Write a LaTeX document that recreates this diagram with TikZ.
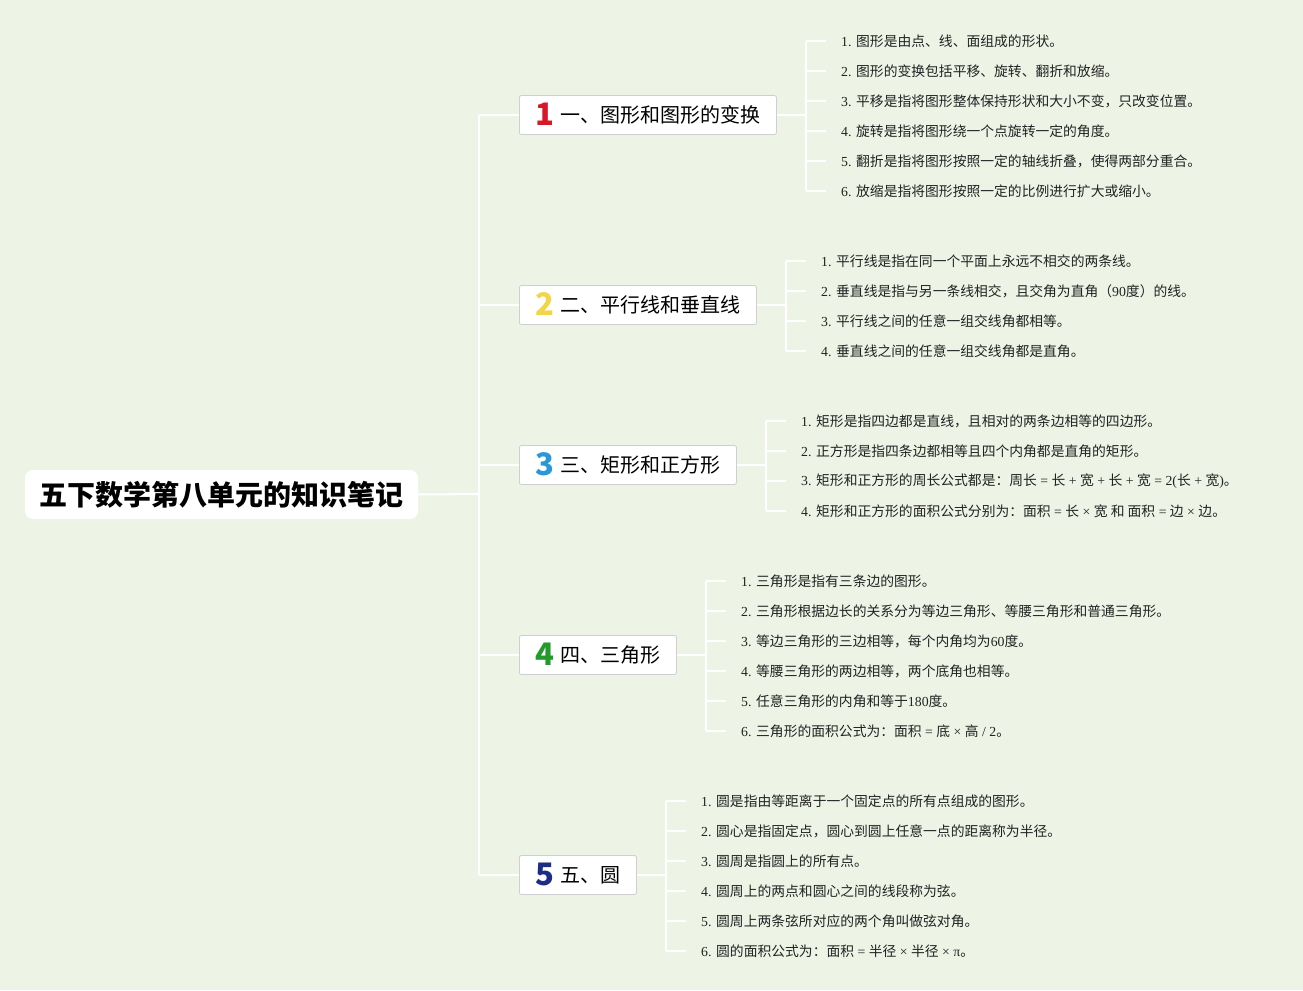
\documentclass[tikz,border=0pt]{standalone}
\usepackage{fontspec}
\setmainfont{Noto Sans CJK SC}
\newfontfamily\serifL{Liberation Serif}
\newcommand{\lt}[1]{{\serifL #1}}
\definecolor{bg}{HTML}{EDF4E6}
\definecolor{cone}{HTML}{D7182A}
\definecolor{ctwo}{HTML}{F2D649}
\definecolor{cthree}{HTML}{2A97D9}
\definecolor{cfour}{HTML}{239A2B}
\definecolor{cfive}{HTML}{1D2C86}
\definecolor{boxline}{HTML}{CFCFCF}
\definecolor{itemtext}{HTML}{222222}
\tikzset{
  rootbox/.style={fill=white, rounded corners=8pt, minimum width=393pt, minimum height=49pt, inner sep=0pt,
    font=\fontsize{28}{30}\selectfont\bfseries, text=black},
  secbox/.style={fill=white, draw=boxline, line width=0.8pt, rounded corners=2pt, minimum height=39pt,
    inner sep=0pt, text height=17pt, text depth=1.6pt, anchor=west, font=\fontsize{20}{22}\selectfont, text=black},
  itembox/.style={anchor=west, inner sep=0pt, font=\fontsize{13.8}{15}\selectfont, text=itemtext},
  link/.style={draw=white, line width=2pt},
}
\newcommand{\num}[2]{\raisebox{-3pt}{\textcolor{#1}{\fontsize{31}{31}\selectfont\bfseries #2}}\hspace{6pt}}
\begin{document}
\begin{tikzpicture}[x=1pt,y=-1pt]
\fill[bg] (0,0) rectangle (1303,990);
\useasboundingbox (0,0) rectangle (1303,990);

% root
\node[rootbox] (root) at (221.5,494.5) {五下数学第八单元的知识笔记};
\coordinate (trunk) at (479,494);

% sections
\node[secbox, minimum width=257pt] (s1) at (519,115) {\num{cone}{1}一、图形和图形的变换};
\node[secbox, minimum width=237pt] (s2) at (519,305) {\num{ctwo}{2}二、平行线和垂直线};
\node[secbox, minimum width=217pt] (s3) at (519,465) {\num{cthree}{3}三、矩形和正方形};
\node[secbox, minimum width=157pt] (s4) at (519,655) {\num{cfour}{4}四、三角形};
\node[secbox, minimum width=117pt] (s5) at (519,875) {\num{cfive}{5}五、圆};

\draw[link] (root.east) -- (trunk);
\draw[link] (trunk |- s1.west) -- (trunk |- s5.west);
\foreach \s in {s1,s2,s3,s4,s5} {\draw[link] (trunk |- \s.west) -- (\s.west);}

% section 1 items
\node[itembox] (a1) at (841,41) {\lt{1. }图形是由点、线、面组成的形状。};
\node[itembox] (a2) at (841,71) {\lt{2. }图形的变换包括平移、旋转、翻折和放缩。};
\node[itembox] (a3) at (841,101) {\lt{3. }平移是指将图形整体保持形状和大小不变，只改变位置。};
\node[itembox] (a4) at (841,131) {\lt{4. }旋转是指将图形绕一个点旋转一定的角度。};
\node[itembox] (a5) at (841,161) {\lt{5. }翻折是指将图形按照一定的轴线折叠，使得两部分重合。};
\node[itembox] (a6) at (841,191) {\lt{6. }放缩是指将图形按照一定的比例进行扩大或缩小。};
\coordinate (k1) at (806,115);
\draw[link] (s1.east) -- (k1);
\draw[link] (k1 |- a1.west) -- (k1 |- a6.west);
\foreach \i in {a1,a2,a3,a4,a5,a6} {\draw[link] (k1 |- \i.west) -- ([xshift=-15pt]\i.west);}

% section 2 items
\node[itembox] (b1) at (821,261) {\lt{1. }平行线是指在同一个平面上永远不相交的两条线。};
\node[itembox] (b2) at (821,291) {\lt{2. }垂直线是指与另一条线相交，且交角为直角（\lt{90}度）的线。};
\node[itembox] (b3) at (821,321) {\lt{3. }平行线之间的任意一组交线角都相等。};
\node[itembox] (b4) at (821,351) {\lt{4. }垂直线之间的任意一组交线角都是直角。};
\coordinate (k2) at (786,305);
\draw[link] (s2.east) -- (k2);
\draw[link] (k2 |- b1.west) -- (k2 |- b4.west);
\foreach \i in {b1,b2,b3,b4} {\draw[link] (k2 |- \i.west) -- ([xshift=-15pt]\i.west);}

% section 3 items
\node[itembox] (c1) at (801,421) {\lt{1. }矩形是指四边都是直线，且相对的两条边相等的四边形。};
\node[itembox] (c2) at (801,451) {\lt{2. }正方形是指四条边都相等且四个内角都是直角的矩形。};
\node[itembox] (c3) at (801,481) {\lt{3. }矩形和正方形的周长公式都是：周长\lt{ = }长\lt{ + }宽\lt{ + }长\lt{ + }宽\lt{ = 2(}长\lt{ + }宽\lt{)}。};
\node[itembox] (c4) at (801,511) {\lt{4. }矩形和正方形的面积公式分别为：面积\lt{ = }长\lt{ × }宽 和 面积\lt{ = }边\lt{ × }边。};
\coordinate (k3) at (766,465);
\draw[link] (s3.east) -- (k3);
\draw[link] (k3 |- c1.west) -- (k3 |- c4.west);
\foreach \i in {c1,c2,c3,c4} {\draw[link] (k3 |- \i.west) -- ([xshift=-15pt]\i.west);}

% section 4 items
\node[itembox] (d1) at (741,581) {\lt{1. }三角形是指有三条边的图形。};
\node[itembox] (d2) at (741,611) {\lt{2. }三角形根据边长的关系分为等边三角形、等腰三角形和普通三角形。};
\node[itembox] (d3) at (741,641) {\lt{3. }等边三角形的三边相等，每个内角均为\lt{60}度。};
\node[itembox] (d4) at (741,671) {\lt{4. }等腰三角形的两边相等，两个底角也相等。};
\node[itembox] (d5) at (741,701) {\lt{5. }任意三角形的内角和等于\lt{180}度。};
\node[itembox] (d6) at (741,731) {\lt{6. }三角形的面积公式为：面积\lt{ = }底\lt{ × }高\lt{ / 2}。};
\coordinate (k4) at (706,655);
\draw[link] (s4.east) -- (k4);
\draw[link] (k4 |- d1.west) -- (k4 |- d6.west);
\foreach \i in {d1,d2,d3,d4,d5,d6} {\draw[link] (k4 |- \i.west) -- ([xshift=-15pt]\i.west);}

% section 5 items
\node[itembox] (e1) at (701,801) {\lt{1. }圆是指由等距离于一个固定点的所有点组成的图形。};
\node[itembox] (e2) at (701,831) {\lt{2. }圆心是指固定点，圆心到圆上任意一点的距离称为半径。};
\node[itembox] (e3) at (701,861) {\lt{3. }圆周是指圆上的所有点。};
\node[itembox] (e4) at (701,891) {\lt{4. }圆周上的两点和圆心之间的线段称为弦。};
\node[itembox] (e5) at (701,921) {\lt{5. }圆周上两条弦所对应的两个角叫做弦对角。};
\node[itembox] (e6) at (701,951) {\lt{6. }圆的面积公式为：面积\lt{ = }半径\lt{ × }半径\lt{ × π}。};
\coordinate (k5) at (666,875);
\draw[link] (s5.east) -- (k5);
\draw[link] (k5 |- e1.west) -- (k5 |- e6.west);
\foreach \i in {e1,e2,e3,e4,e5,e6} {\draw[link] (k5 |- \i.west) -- ([xshift=-15pt]\i.west);}
\end{tikzpicture}
\end{document}
